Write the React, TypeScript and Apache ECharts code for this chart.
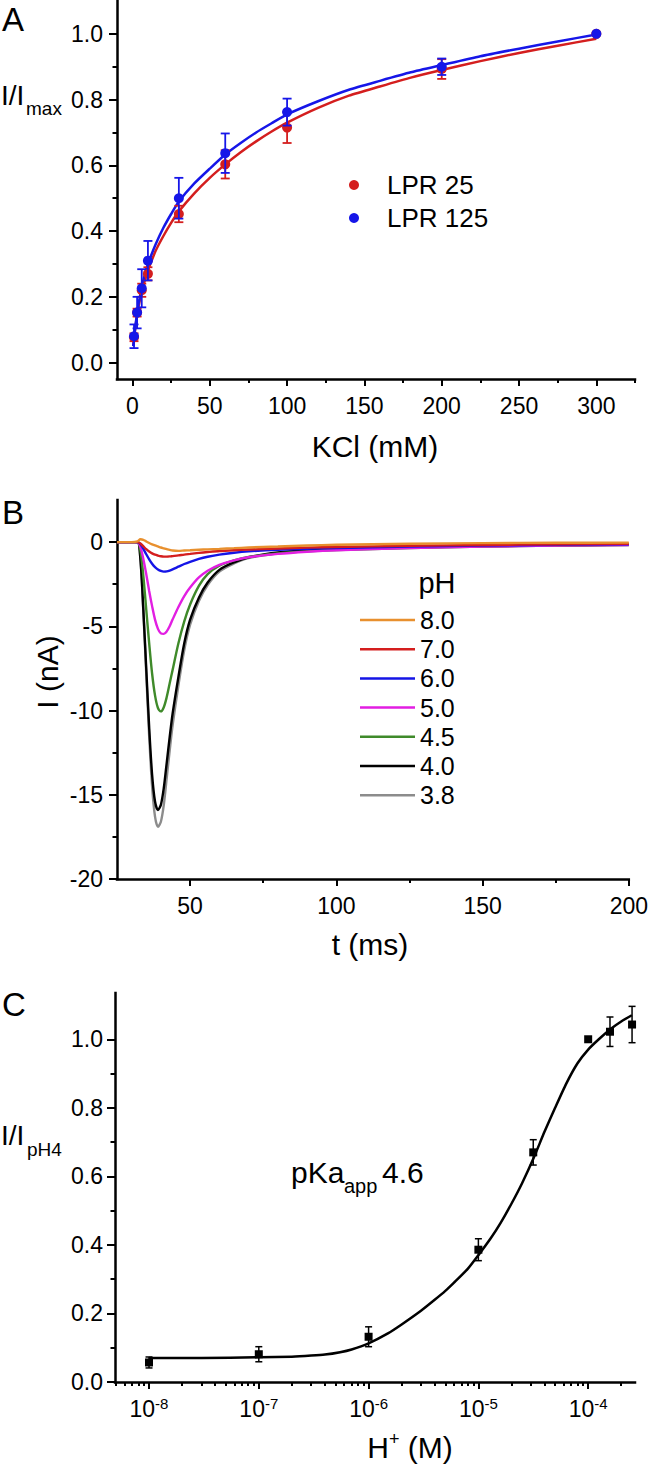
import React, { useEffect, useRef } from 'react';
import * as echarts from 'echarts';

const FONT = "'Liberation Sans', Arial, Helvetica, sans-serif";

// ---------- Panel A : KCl dependence ----------
const kclConc = [1, 3, 6, 10, 30, 60, 100, 200, 300];
const lpr25Mean = [0.077, 0.152, 0.22, 0.27, 0.452, 0.603, 0.715, 0.893, 1.0];
const lpr25Err = [0.012, 0.012, 0.02, 0.02, 0.025, 0.043, 0.047, 0.03, 0];
const lpr125Mean = [0.08, 0.152, 0.226, 0.31, 0.5, 0.637, 0.762, 0.9, 1.0];
const lpr125Err = [0.036, 0.048, 0.058, 0.06, 0.062, 0.06, 0.041, 0.025, 0];
const fitKcl = [0.5, 1, 2, 3, 4, 5, 6, 8, 10, 12, 15, 20, 25, 30, 40, 50, 60, 70, 80, 90, 100, 120, 140, 160, 180, 200, 225, 250, 275, 300];
const fit25 = [0.05, 0.072, 0.11, 0.145, 0.172, 0.195, 0.215, 0.25, 0.28, 0.305, 0.34, 0.385, 0.425, 0.46, 0.515, 0.562, 0.603, 0.64, 0.673, 0.703, 0.73, 0.775, 0.812, 0.84, 0.867, 0.89, 0.917, 0.942, 0.964, 0.985];
const fit125 = [0.05, 0.075, 0.115, 0.15, 0.18, 0.205, 0.23, 0.268, 0.3, 0.325, 0.36, 0.41, 0.452, 0.49, 0.545, 0.59, 0.633, 0.668, 0.7, 0.728, 0.755, 0.795, 0.83, 0.857, 0.883, 0.905, 0.932, 0.955, 0.977, 0.998];
const aXLabels = [0, 50, 100, 150, 200, 250, 300];
const aXMinor = [25, 75, 125, 175, 225, 275, 325];
const aYLabels = [0, 0.2, 0.4, 0.6, 0.8, 1.0];
const aYMinor = [0.1, 0.3, 0.5, 0.7, 0.9];

// ---------- Panel B : current traces ----------
const pHLabels = ['8.0', '7.0', '6.0', '5.0', '4.5', '4.0', '3.8'];
const traceColors = ['#E8902E', '#D41E1E', '#1414E6', '#E21EE2', '#3F8A2A', '#000000', '#8C8C8C'];
const traceTime = [25, 30, 32, 33, 34, 35, 36, 37, 38, 39, 40, 41, 42, 43, 44, 46, 48, 50, 53, 56, 60, 65, 70, 80, 90, 100, 125, 150, 175, 200];
const tracePH80 = [0, 0, 0.05, 0.17, 0.14, 0.04, -0.05, -0.13, -0.2, -0.26, -0.32, -0.37, -0.42, -0.46, -0.5, -0.52, -0.5, -0.48, -0.45, -0.43, -0.4, -0.36, -0.32, -0.26, -0.2, -0.16, -0.1, -0.06, -0.04, -0.03];
const tracePH70 = [0, 0, 0, -0.08, -0.25, -0.42, -0.56, -0.67, -0.75, -0.8, -0.84, -0.86, -0.86, -0.85, -0.83, -0.79, -0.74, -0.7, -0.64, -0.59, -0.53, -0.48, -0.44, -0.38, -0.33, -0.29, -0.22, -0.17, -0.13, -0.1];
const tracePH60 = [0, 0, 0, -0.12, -0.4, -0.72, -1.02, -1.28, -1.48, -1.62, -1.71, -1.75, -1.74, -1.69, -1.62, -1.46, -1.3, -1.17, -1.0, -0.87, -0.74, -0.63, -0.55, -0.45, -0.39, -0.35, -0.27, -0.21, -0.16, -0.13];
const tracePH50 = [0, 0, 0, -0.3, -1.0, -1.9, -2.9, -3.8, -4.6, -5.15, -5.42, -5.45, -5.3, -5.0, -4.6, -3.85, -3.2, -2.7, -2.1, -1.7, -1.35, -1.08, -0.9, -0.7, -0.57, -0.48, -0.35, -0.27, -0.21, -0.17];
const tracePH45 = [0, 0, 0, -0.5, -2.0, -4.0, -6.0, -7.8, -9.1, -9.85, -10.05, -9.8, -9.2, -8.4, -7.6, -6.0, -4.7, -3.7, -2.6, -1.9, -1.4, -1.08, -0.88, -0.67, -0.55, -0.47, -0.35, -0.27, -0.21, -0.17];
const tracePH40 = [0, 0, 0, -1.0, -4.0, -7.5, -11.0, -13.8, -15.4, -15.9, -15.6, -14.6, -13.1, -11.6, -10.2, -8.0, -6.0, -4.6, -3.3, -2.4, -1.65, -1.2, -0.9, -0.62, -0.48, -0.4, -0.3, -0.24, -0.19, -0.15];
const tracePH38 = [0, 0, 0, -1.0, -4.1, -7.8, -11.5, -14.5, -16.3, -16.9, -16.6, -15.6, -14.0, -12.4, -10.9, -8.5, -6.4, -4.9, -3.5, -2.55, -1.75, -1.27, -0.95, -0.66, -0.5, -0.42, -0.31, -0.25, -0.2, -0.16];
const traces = [tracePH80, tracePH70, tracePH60, tracePH50, tracePH45, tracePH40, tracePH38];
const bXLabels = [50, 100, 150, 200];
const bXMinor = [75, 125, 175];
const bYLabels = [-20, -15, -10, -5, 0];
const bYMinor = [-17.5, -12.5, -7.5, -2.5];

// ---------- Panel C : proton dependence ----------
const hConc = [1e-8, 1e-7, 1e-6, 1e-5, 3.16e-5, 1e-4, 1.58e-4, 2.51e-4];
const relCurrent = [0.057, 0.081, 0.132, 0.386, 0.67, 1.0, 1.022, 1.043];
const relErr = [0.016, 0.022, 0.029, 0.032, 0.037, 0, 0.043, 0.053];
const fitH = [1e-8, 3e-8, 1e-7, 2e-7, 3e-7, 4e-7, 5.5e-7, 7e-7, 1e-6, 1.5e-6, 2e-6, 3e-6, 4e-6, 5e-6, 6e-6, 8e-6, 1e-5, 1.3e-5, 1.6e-5, 2e-5, 2.5e-5, 3.2e-5, 4e-5, 5e-5, 6.3e-5, 8e-5, 1e-4, 1.25e-4, 1.6e-4, 2e-4, 2.5e-4];
const fitRel = [0.07, 0.07, 0.072, 0.074, 0.077, 0.08, 0.087, 0.095, 0.113, 0.142, 0.168, 0.208, 0.24, 0.266, 0.29, 0.33, 0.37, 0.42, 0.465, 0.52, 0.58, 0.655, 0.73, 0.8, 0.87, 0.93, 0.97, 1.0, 1.03, 1.052, 1.07];
const cXExponents = [-8, -7, -6, -5, -4];
const cYLabels = [0, 0.2, 0.4, 0.6, 0.8, 1.0];
const cYMinor = [0.1, 0.3, 0.5, 0.7, 0.9];
const hMin = 4.9e-9;
const hMax = 2.67e-4;

const BLACK = '#000';
const RED = '#D41E1E';
const BLUE = '#1616E8';

function makeAxis(opts: any) {
  const { gridIndex, min, max, position, ticks, tickLen, labels, formatter, margin, rich } = opts;
  return {
    type: 'value',
    gridIndex,
    min,
    max,
    position,
    splitLine: { show: false },
    axisLine: { show: !!opts.line, onZero: false, lineStyle: { color: BLACK, width: 2.5, cap: 'square' } },
    axisTick: ticks
      ? { show: true, inside: false, customValues: ticks, length: tickLen, lineStyle: { color: BLACK, width: 2 } }
      : { show: false },
    axisLabel: labels
      ? { show: true, customValues: labels, formatter, margin, fontSize: 23, color: BLACK, fontFamily: FONT, rich }
      : { show: false },
    silent: true,
  };
}

function errRender(capHalf: number, color: string, lw: number) {
  return (params: any, api: any) => {
    const x = api.value(0);
    const y = api.value(1);
    const e = api.value(2);
    if (!e) return { type: 'group', children: [] };
    const top = api.coord([x, y + e]);
    const bot = api.coord([x, y - e]);
    const style = { stroke: color, lineWidth: lw };
    return {
      type: 'group',
      children: [
        { type: 'line', shape: { x1: top[0], y1: top[1], x2: bot[0], y2: bot[1] }, style },
        { type: 'line', shape: { x1: top[0] - capHalf, y1: top[1], x2: top[0] + capHalf, y2: top[1] }, style },
        { type: 'line', shape: { x1: bot[0] - capHalf, y1: bot[1], x2: bot[0] + capHalf, y2: bot[1] }, style },
      ],
    };
  };
}

function txt(x: number, y: number, text: string, size: number, align = 'left', extra: any = {}) {
  return {
    type: 'text',
    x,
    y,
    silent: true,
    style: { text, fontSize: size, fontFamily: FONT, fill: BLACK, align, verticalAlign: 'middle' },
    ...extra,
  };
}

function buildOption() {
  const logMin = Math.log10(hMin);
  const logMax = Math.log10(hMax);
  const cXMinor: number[] = [];
  for (let n = -9; n <= -4; n++) {
    for (let k = 2; k <= 9; k++) cXMinor.push(n + Math.log10(k));
  }

  const xAxis = [
    makeAxis({ gridIndex: 0, min: -10, max: 325, position: 'bottom', line: true, ticks: aXLabels, tickLen: 7, labels: aXLabels, margin: 15, formatter: (v: number) => String(v) }),
    makeAxis({ gridIndex: 0, min: -10, max: 325, position: 'bottom', ticks: aXMinor, tickLen: 4 }),
    makeAxis({ gridIndex: 1, min: 25, max: 200, position: 'bottom', line: true, ticks: bXLabels, tickLen: 7, labels: bXLabels, margin: 15, formatter: (v: number) => String(v) }),
    makeAxis({ gridIndex: 1, min: 25, max: 200, position: 'bottom', ticks: bXMinor, tickLen: 4 }),
    {
      type: 'log', logBase: 10, gridIndex: 2, min: hMin, max: hMax, position: 'bottom',
      splitLine: { show: false }, axisLine: { show: false, onZero: false }, axisTick: { show: false }, axisLabel: { show: false },
    },
    makeAxis({
      gridIndex: 2, min: logMin, max: logMax, position: 'bottom', line: true, ticks: cXExponents, tickLen: 7,
      labels: cXExponents, margin: 14,
      formatter: (v: number) => `{b|10}{s|${Math.round(v)}}`,
      rich: {
        b: { fontSize: 23, fontFamily: FONT, color: BLACK, lineHeight: 26 },
        s: { fontSize: 15, fontFamily: FONT, color: BLACK, verticalAlign: 'top', lineHeight: 15 },
      },
    }),
    makeAxis({ gridIndex: 2, min: logMin, max: logMax, position: 'bottom', ticks: cXMinor, tickLen: 4 }),
  ];

  const yAxis = [
    makeAxis({ gridIndex: 0, min: -0.05, max: 1.1, position: 'left', line: true, ticks: aYLabels, tickLen: 8, labels: aYLabels, margin: 14, formatter: (v: number) => v.toFixed(1) }),
    makeAxis({ gridIndex: 0, min: -0.05, max: 1.1, position: 'left', ticks: aYMinor, tickLen: 4.5 }),
    makeAxis({ gridIndex: 1, min: -20, max: 2.5, position: 'left', line: true, ticks: bYLabels, tickLen: 8, labels: bYLabels, margin: 14, formatter: (v: number) => String(v) }),
    makeAxis({ gridIndex: 1, min: -20, max: 2.5, position: 'left', ticks: bYMinor, tickLen: 4.5 }),
    makeAxis({ gridIndex: 2, min: 0, max: 1.135, position: 'left', line: true, ticks: cYLabels, tickLen: 8, labels: cYLabels, margin: 12, formatter: (v: number) => v.toFixed(1) }),
    makeAxis({ gridIndex: 2, min: 0, max: 1.135, position: 'left', ticks: cYMinor, tickLen: 4.5 }),
  ];

  const series: any[] = [];
  // Panel A
  series.push({
    name: 'fit LPR 25', type: 'line', xAxisIndex: 0, yAxisIndex: 0,
    data: fitKcl.map((x, i) => [x, fit25[i]]), smooth: 0.2, showSymbol: false, symbol: 'none',
    lineStyle: { color: RED, width: 2.5, join: 'round' }, itemStyle: { color: RED }, z: 2,
  });
  series.push({
    name: 'fit LPR 125', type: 'line', xAxisIndex: 0, yAxisIndex: 0,
    data: fitKcl.map((x, i) => [x, fit125[i]]), smooth: 0.2, showSymbol: false, symbol: 'none',
    lineStyle: { color: BLUE, width: 2.5, join: 'round' }, itemStyle: { color: BLUE }, z: 2,
  });
  series.push({
    name: 'err LPR 25', type: 'custom', xAxisIndex: 0, yAxisIndex: 0, encode: { x: 0, y: 1 },
    data: kclConc.map((x, i) => [x, lpr25Mean[i], lpr25Err[i]]), renderItem: errRender(4.5, RED, 1.8), z: 3,
  });
  series.push({
    name: 'LPR 25', type: 'scatter', xAxisIndex: 0, yAxisIndex: 0,
    data: kclConc.map((x, i) => [x, lpr25Mean[i]]), symbol: 'circle', symbolSize: 10, itemStyle: { color: RED, opacity: 1 }, z: 3,
  });
  series.push({
    name: 'err LPR 125', type: 'custom', xAxisIndex: 0, yAxisIndex: 0, encode: { x: 0, y: 1 },
    data: kclConc.map((x, i) => [x, lpr125Mean[i], lpr125Err[i]]), renderItem: errRender(4.5, BLUE, 1.8), z: 4,
  });
  series.push({
    name: 'LPR 125', type: 'scatter', xAxisIndex: 0, yAxisIndex: 0,
    data: kclConc.map((x, i) => [x, lpr125Mean[i]]), symbol: 'circle', symbolSize: 10, itemStyle: { color: BLUE, opacity: 1 }, z: 4,
  });

  // Panel B (gray drawn first, orange last)
  for (let i = traces.length - 1; i >= 0; i--) {
    series.push({
      name: pHLabels[i], type: 'line', xAxisIndex: 2, yAxisIndex: 2,
      data: traceTime.map((t, j) => [t, traces[i][j]]), smooth: 0.3, showSymbol: false, symbol: 'none',
      lineStyle: { color: traceColors[i], width: 2.4 }, itemStyle: { color: traceColors[i] },
    });
  }

  // Panel C
  series.push({
    name: 'fit pH', type: 'line', xAxisIndex: 4, yAxisIndex: 4,
    data: fitH.map((h, i) => [h, fitRel[i]]), smooth: 0.2, showSymbol: false, symbol: 'none',
    lineStyle: { color: BLACK, width: 2.5, join: 'round' }, itemStyle: { color: BLACK },
  });
  series.push({
    name: 'err pH', type: 'custom', xAxisIndex: 4, yAxisIndex: 4, encode: { x: 0, y: 1 },
    data: hConc.map((h, i) => [h, relCurrent[i], relErr[i]]), renderItem: errRender(3.5, BLACK, 1.5), z: 3,
  });
  series.push({
    name: 'I/IpH4', type: 'scatter', xAxisIndex: 4, yAxisIndex: 4,
    data: hConc.map((h, i) => [h, relCurrent[i]]), symbol: 'rect', symbolSize: 8, itemStyle: { color: BLACK, opacity: 1 }, z: 4,
  });

  const graphic = [
    txt(2, 19, 'A', 33),
    txt(2, 512, 'B', 33),
    txt(2, 1004, 'C', 33),
    txt(1, 95, 'I/I', 28),
    txt(26, 108, 'max', 19),
    txt(375, 446, 'KCl (mM)', 30, 'center'),
    txt(47, 672, 'I (nA)', 30, 'center', { rotation: Math.PI / 2 }),
    txt(370, 944, 't (ms)', 30, 'center'),
    txt(437, 583, 'pH', 29, 'center'),
    txt(1, 1135, 'I/I', 28),
    txt(27, 1149, 'pH4', 19),
    txt(291, 1172, 'pKa', 30),
    txt(344, 1186, 'app', 20),
    txt(382, 1172, '4.6', 30),
    {
      type: 'text', x: 410, y: 1447, silent: true,
      style: {
        text: '{b|H}{s|+}{b| (M)}', align: 'center', verticalAlign: 'middle',
        rich: {
          b: { fontSize: 30, fontFamily: FONT, fill: BLACK, lineHeight: 34 },
          s: { fontSize: 18, fontFamily: FONT, fill: BLACK, verticalAlign: 'top', lineHeight: 18 },
        },
      },
    },
  ];

  return {
    animation: false,
    backgroundColor: '#ffffff',
    grid: [
      { left: 117, top: 1, width: 518, height: 378 },
      { left: 117, top: 500, width: 518, height: 379 },
      { left: 115, top: 993, width: 520, height: 389 },
    ],
    legend: [
      {
        data: ['LPR 25', 'LPR 125'], orient: 'vertical', left: 349, top: 168.5, icon: 'circle',
        itemWidth: 56, itemHeight: 10, itemGap: 0, padding: 0, selectedMode: false,
        textStyle: { fontSize: 26, color: BLACK, fontFamily: FONT, lineHeight: 33 },
      },
      {
        data: pHLabels, orient: 'vertical', left: 360, top: 605.4, icon: 'rect',
        itemWidth: 55, itemHeight: 2.5, itemGap: 0, padding: 0, selectedMode: false,
        textStyle: { fontSize: 25, color: BLACK, fontFamily: FONT, lineHeight: 29.2 },
      },
    ],
    xAxis,
    yAxis,
    series,
    graphic,
  };
}

export default function App() {
  const ref = useRef<HTMLDivElement>(null);
  useEffect(() => {
    if (!ref.current) return;
    const chart = echarts.init(ref.current, null, { renderer: 'svg' });
    chart.setOption(buildOption() as any);
    return () => chart.dispose();
  }, []);
  return (
    <div
      ref={ref}
      style={{ position: 'absolute', left: 0, top: 0, width: 651, height: 1465, background: '#fff' }}
    />
  );
}
